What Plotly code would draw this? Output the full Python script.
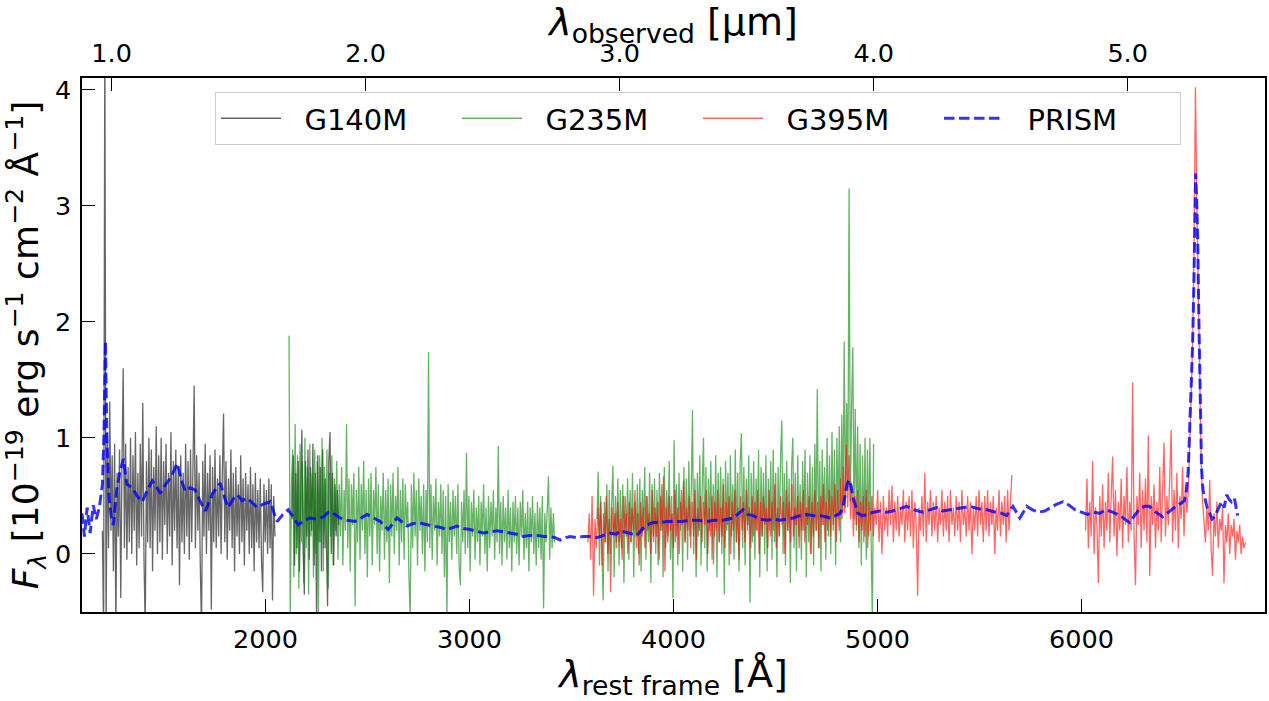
import numpy as np
import plotly.graph_objects as go

# ---------------- data ----------------
REDSHIFT = 7.03

# G140M grating: two chunks, start wavelength [Å], step [Å], flux [1e-19 cgs]
G140M_START_A, G140M_STEP_A = 1200, 6
G140M_FLUX_A = [
    0.20, -0.70, 4.60, -0.70, 1.05, 0.05, 1.31, 0.20, 0.85, -0.15,
    0.95, -0.65, 0.70, 0.15, 0.90, -0.38, 0.80, 1.60, 0.05, 0.95,
    -0.05, 0.75, 0.10, 1.00, 0.00, 0.85, 0.20, 1.05, -0.10, 0.70,
    0.05, 0.95, 0.15, 1.30, -0.05, -0.65, 0.80, 0.10, 1.00, 0.05,
    0.90, -0.15, 0.75, 0.20, 1.10, 0.00, 0.85, 0.10, 1.00, -0.05,
    0.80, 0.25, 0.95, 0.00, 0.70, 0.15, 1.05, -0.10, 0.80, 0.20,
    0.90, 0.05, 0.75, -0.27, 0.85, 0.10, 0.70, 0.00, 0.95, 0.15,
    0.80, -0.05, 0.90, 0.10, 0.75, 1.45, 0.05, 0.85, 0.20, 0.70,
    -0.10, -0.65, 0.80, 0.15, 0.95, 0.00, 0.70, 0.20, 0.85, -0.48,
    0.75, 0.10, 0.90, 0.05, 0.65, 0.15, 0.85, 0.00, 0.70, 1.21,
    0.10, 0.80, -0.05, 0.65, 0.20, 0.90, 0.05, 0.70, -0.15, 0.75,
    0.15, 0.60, 0.00, 0.85, 0.10, 0.65, -0.10, 0.70, 0.20, 0.60,
    0.00, 0.75, 0.05, 0.60, -0.15, 0.70, 0.10, 0.55, 0.05, 0.65,
    -0.05, -0.33, 0.60, 0.10, 0.55, 0.00, 0.65, 0.05, 0.60, -0.40,
    0.50, 0.15,
]
G140M_START_B, G140M_STEP_B = 2130, 6
G140M_FLUX_B = [
    0.30, 0.85, -0.10, 0.70, 0.05, 0.80, -0.15, 0.65, 1.07, 0.10,
    -0.35, 0.80, 0.15, 0.90, -0.05, 0.75, 0.20, 0.95, -0.10, 0.70,
    -0.55, 0.85, 0.10, 0.75, -0.15, 0.90, 0.05, 0.65, 0.20, -0.45,
    0.80, 1.05, 0.00, 0.70, -0.10, 0.60, 0.15, 0.55, 0.25,
]

# G235M grating
G235M_START_A, G235M_STEP_A = 2115, 6
G235M_FLUX_A = [
    1.88, -0.55, 0.60, 0.90, -0.20, 1.12, 0.00, 0.85, -0.30, 0.95,
    0.10, 0.80, -0.25, 1.00, 0.05, 0.75, -0.35, 0.95, 0.15, 0.70,
    -0.20, 0.90, 0.00, 0.80, -0.55, 0.85, 0.10, 1.00, -0.15, 0.75,
    0.05, 0.90, -0.30, 0.70, 0.15, 0.85, -0.10, 0.65, 0.20, 0.80,
    -0.05, 0.60, 0.15, 0.75, -0.10, 0.55, 0.20, 1.12, 0.05, 0.65,
    -0.15, 0.60, 0.25, 0.70, -0.45, 0.55, 0.10, 0.75, -0.05, 0.60,
    0.20, 0.80, 0.00, 0.55, -0.20, 0.65, 0.15, 0.70, -0.10, 0.55,
    0.25, 0.75, 0.00, 0.60, -0.15, 0.50, 0.20, 0.70, -0.05, 0.55,
    0.10, 0.65, -0.25, 0.60, 0.15, 0.70, 0.00, 0.50, 0.20, 0.75,
    -0.10, 0.55, 0.10, 0.65, -0.05, 0.60, 0.25, 0.45, -0.20, -0.55,
    0.60, 0.05, 0.70, 0.15, 0.55, -0.10, 0.65, 0.20, 0.50, 0.00,
    0.60, -0.15, 0.55, 0.10, 1.74, 0.05, 0.60, -0.05, 0.50, 0.20,
    0.65, -0.10, 0.45, 0.15, 0.60, 0.00, 0.55, -0.20, 0.50, -0.55,
    0.60, 0.10, 0.45, -0.05, 0.55, 0.15, 0.50, 0.00, 0.60, -0.10,
    -0.27, 0.45, 0.10, 0.55, 0.00, 0.87, 0.05, 0.50, -0.15, 0.45,
    0.15, 0.55, -0.05, 0.40, 0.10, 0.50, -0.10, 0.45, 0.15, 0.60,
    0.00, 0.40, -0.15, 0.50, 0.05, 0.45, 0.15, 0.55, -0.05, 0.40,
    0.10, 0.93, 0.00, 0.45, -0.10, 0.50, 0.10, 0.40, -0.05, 0.55,
    0.05, 0.40, -0.15, 0.45, 0.10, 0.50, 0.00, 0.40, -0.10, 0.45,
    0.15, 0.55, -0.05, 0.35, 0.05, 0.45, -0.15, 0.40, 0.10, 0.50,
    0.00, 0.35, -0.10, 0.45, 0.05, 0.40, -0.05, 0.50, -0.47, 0.35,
    0.10, 0.45, 0.67, -0.05, 0.40, 0.05, 0.35, 0.10,
]
G235M_START_B, G235M_STEP_B = 3625, 6
G235M_FLUX_B = [
    0.30, 0.71, -0.10, 0.50, 0.05, -0.40, 0.45, 0.10, 0.60, -0.15,
    0.55, 0.00, 0.45, 0.76, -0.20, 0.50, 0.10, 0.65, -0.10, 0.55,
    0.05, 0.60, -0.25, 0.50, 0.15, 0.65, -0.05, 0.55, 0.10, 0.70,
    -0.20, 0.45, 0.15, 0.60, 0.00, 0.65, -0.15, 0.55, 0.20, 0.75,
    -0.05, 0.50, 0.10, 0.70, -0.25, 0.60, 0.15, 0.65, 0.00, 0.55,
    -0.10, 0.70, 0.20, 0.60, -0.20, 0.75, 0.05, 0.55, 0.15, 0.80,
    -0.05, 0.50, -0.38, 0.98, 0.10, 0.60, -0.10, 0.70, 0.20, 0.55,
    -0.15, 0.75, 0.10, 0.65, -0.05, 0.80, 0.15, 0.55, 1.24, 0.00,
    0.65, -0.20, 0.70, 0.15, 0.85, -0.10, 0.60, 1.00, 0.05, 0.75,
    -0.15, 0.65, 0.20, 0.80, -0.05, 0.60, 0.15, 0.85, -0.20, 0.70,
    0.10, 0.75, 0.00, 0.65, -0.35, 0.80, 0.20, 0.70, -0.10, 0.85,
    0.15, 0.60, -0.05, 0.90, 0.10, 0.70, -0.15, 0.80, 1.04, 0.05,
    0.75, -0.10, 0.65, 0.20, 0.85, -0.42, 0.70, 0.10, 0.80, -0.05,
    0.65, 0.20, 0.90, -0.20, 0.75, 0.15, 0.70, 0.00, 0.85, -0.15,
    0.65, 0.20, 0.80, -0.05, 0.90, 0.10, 0.70, -0.20, 0.75, 0.15,
    0.85, 1.15, 0.00, 0.70, -0.10, 0.80, 0.20, 0.65, -0.25, 0.75,
    1.00, 0.05, 0.70, -0.15, 0.85, 0.15, 0.60, -0.05, 0.80, 0.20,
    0.90, -0.20, 0.70, 0.10, 0.85, 0.00, 0.75, -0.10, 0.95, 0.20,
    1.42, 0.05, 0.80, -0.15, 0.90, 0.25, 0.75, -0.05, 1.00, 0.15,
    0.85, 0.00, 1.05, 0.20, 0.90, -0.10, 1.00, 0.30, 1.10, 0.10,
    1.20, 0.35, 1.83, 0.40, 1.30, 0.55, 3.15, 0.45, 1.25, 1.78,
    0.30, 1.25, 0.20, 1.10, 0.05, 0.95, -0.10, 0.85, 0.10, 1.00,
    -0.05, 0.90, 0.15, 1.00, 0.10, -0.60, 0.95,
]

# G395M grating
G395M_START_A, G395M_STEP_A = 3580, 7
G395M_FLUX_A = [
    0.10, 0.35, -0.05, 0.50, -0.36, 0.30, 0.05, 0.40, 0.15, 0.45,
    -0.10, 0.35, 0.10, 0.50, 0.00, 0.30, -0.33, 0.40, 0.15, 0.35,
    0.05, 0.45, 0.10, 0.30, -0.05, 0.50, 0.20, 0.35, 0.00, 0.45,
    0.10, 0.40, 0.20, 0.55, 0.05, 0.35, -0.10, 0.45, 0.15, 0.40,
    0.05, 0.50, 0.20, 0.35, 0.00, 0.55, 0.10, 0.40, 0.15, 0.45,
    -0.05, 0.50, 0.20, 0.67, -0.15, 0.40, 0.10, 0.50, 0.20, 0.35,
    0.05, 0.55, 0.15, 0.40, 0.00, 0.45, 0.25, 0.63, 0.10, 0.40,
    0.20, 0.50, 0.05, 0.45, 0.15, 0.55, -0.05, 0.40, 0.20, 0.50,
    0.10, 0.45, 0.25, 0.55, 0.00, 0.40, 0.15, 0.50, -0.09, 0.45,
    0.20, 0.55, 0.10, 0.40, 0.15, 0.60, 0.05, 0.45, 0.25, 0.50,
    0.00, 0.45, 0.20, 0.55, 0.10, 0.40, -0.05, 0.50, 0.20, 0.45,
    0.10, 0.55, 0.25, 0.40, 0.05, 0.50, 0.15, 0.45, 0.20, 0.55,
    0.00, 0.45, 0.15, 0.50, 0.25, 0.40, 0.05, 0.55, 0.15, 0.45,
    0.20, 0.60, 0.05, 0.40, 0.15, 0.50, 0.25, 0.45, 0.00, 0.55,
    0.20, 0.45, 0.10, 0.60, 0.15, 0.40, 0.25, 0.50, 0.05, 0.45,
    0.20, 0.55, 0.10, 0.40, 0.25, 0.50, 0.00, 0.45, 0.15, 0.55,
    0.20, 0.45, 0.05, 0.50, 0.25, 0.60, 0.10, 0.45, 0.20, 0.55,
    0.15, 0.50, 0.25, 0.60, 0.10, 0.55, 0.20, 0.65, 0.30, 0.75,
    0.35, 0.94, 0.40, 0.85, 0.30, 0.60, 0.15, 0.50, 0.25, 0.55,
    0.10, 0.45, 0.20, 0.50, 0.15, 0.55, 0.05, 0.45, 0.20, 0.50,
    0.15, 0.40, 0.25, 0.55, 0.10, 0.45, 0.00, 0.50, 0.20, 0.40,
    0.15, 0.55, 0.25, 0.59, 0.10, 0.45, 0.20, 0.50, 0.15, 0.40,
    0.25, 0.55, 0.10, 0.45, 0.20, 0.50, 0.15, 0.55, 0.05, 0.45,
    0.25, -0.36, 0.40, 0.20, 0.50, 0.15, 0.70, 0.10, 0.45, 0.25,
    0.55, 0.15, 0.45, 0.20, 0.50, 0.10, 0.40, 0.25, 0.55, 0.15,
    0.45, 0.20, 0.50, 0.10, 0.55, 0.25, 0.40, 0.15, 0.50, 0.20,
    0.45, 0.10, 0.55, 0.25, 0.40, 0.15, 0.50, 0.20, 0.45, 0.00,
    0.40, 0.20, 0.50, 0.15, 0.55, 0.25, 0.45, 0.10, 0.50, 0.20,
    0.55, 0.15, 0.45, 0.25, 0.50, 0.00, 0.40, 0.20, 0.55, 0.15,
    0.45, 0.25, 0.50, 0.10, 0.55, 0.20, 0.45, 0.68,
]
G395M_START_B, G395M_STEP_B = 6020, 7
G395M_FLUX_B = [
    0.20, 0.65, 0.05, 0.45, 0.15, 0.80, 0.00, 0.40, 0.25, -0.25,
    0.50, 0.15, 0.60, 0.05, 0.45, 0.20, 0.70, 0.10, 0.50, 0.84,
    0.15, 0.55, -0.02, 0.45, 0.20, 0.65, 0.05, 0.50, 0.25, 0.75,
    0.10, 0.45, 0.20, 1.48, 0.15, -0.27, 0.50, 0.25, 0.70, 0.05,
    0.55, 0.20, 0.65, 0.10, 1.02, -0.19, 0.50, 0.25, 0.60, 0.05,
    0.45, 0.20, 0.75, 0.10, 0.55, 0.96, 0.15, 0.50, 0.25, 0.65,
    1.07, 0.10, 0.55, 0.20, 0.70, 0.05, 0.50, 0.30, 0.75, 0.15,
    0.60, 0.35, 0.55, 0.95, 1.30, 1.80, 2.60, 4.02, 3.00, 2.20,
    1.40, 0.80, 0.45, 0.30, 0.10, 0.40, 0.20, 0.64, 0.05, -0.19,
    0.35, 0.15, 0.45, 0.05, 0.30, 0.20, 0.40, -0.25, 0.25, 0.10,
    0.35, 0.00, 0.25, 0.15, 0.30, -0.05, 0.20, 0.10, 0.25, 0.00,
    0.15, 0.05, 0.10,
]

# PRISM (low resolution)
PRISM_WAVE = [
    1100, 1112, 1125, 1140, 1155, 1170, 1185, 1200, 1208, 1215,
    1222, 1232, 1245, 1254, 1270, 1285, 1303, 1320, 1347, 1370,
    1396, 1420, 1445, 1465, 1484, 1510, 1533, 1567, 1590, 1607,
    1630, 1656, 1680, 1705, 1740, 1778, 1800, 1817, 1840, 1861,
    1885, 1910, 1935, 1959, 1990, 2023, 2040, 2057, 2085, 2111,
    2135, 2160, 2190, 2219, 2250, 2283, 2310, 2332, 2365, 2400,
    2439, 2470, 2498, 2530, 2562, 2601, 2625, 2645, 2694, 2720,
    2748, 2790, 2821, 2855, 2890, 2939, 2970, 3003, 3040, 3067,
    3100, 3135, 3170, 3199, 3230, 3263, 3300, 3331, 3365, 3395,
    3420, 3444, 3470, 3493, 3525, 3557, 3590, 3625, 3660, 3689,
    3720, 3738, 3780, 3821, 3850, 3870, 3900, 3934, 3970, 3998,
    4040, 4081, 4120, 4164, 4200, 4243, 4270, 4292, 4320, 4341,
    4365, 4390, 4425, 4459, 4490, 4522, 4555, 4586, 4620, 4655,
    4690, 4719, 4745, 4768, 4795, 4817, 4830, 4841, 4851, 4861,
    4871, 4881, 4893, 4904, 4925, 4949, 4980, 5012, 5045, 5075,
    5110, 5143, 5180, 5220, 5256, 5290, 5320, 5355, 5389, 5420,
    5453, 5495, 5536, 5580, 5610, 5634, 5650, 5664, 5680, 5698,
    5715, 5732, 5760, 5790, 5820, 5850, 5880, 5910, 5940, 5970,
    6000, 6030, 6060, 6089, 6120, 6153, 6190, 6236, 6260, 6285,
    6310, 6334, 6365, 6398, 6420, 6442, 6470, 6491, 6505, 6515,
    6523, 6530, 6538, 6545, 6551, 6556, 6560, 6565, 6570, 6575,
    6580, 6584, 6589, 6596, 6604, 6616, 6628, 6640, 6653, 6670,
    6687, 6700, 6712, 6724, 6736, 6750, 6761, 6766,
]
PRISM_FLUX = [
    0.35, 0.15, 0.40, 0.18, 0.42, 0.30, 0.40, 0.60, 1.05, 1.83,
    1.00, 0.50, 0.30, 0.25, 0.55, 0.70, 0.82, 0.60, 0.57, 0.50,
    0.45, 0.55, 0.63, 0.58, 0.52, 0.60, 0.65, 0.78, 0.62, 0.54,
    0.57, 0.55, 0.45, 0.37, 0.52, 0.61, 0.48, 0.40, 0.47, 0.51,
    0.46, 0.48, 0.44, 0.40, 0.43, 0.45, 0.36, 0.28, 0.34, 0.38,
    0.32, 0.25, 0.29, 0.31, 0.30, 0.32, 0.36, 0.35, 0.31, 0.29,
    0.28, 0.31, 0.34, 0.31, 0.28, 0.21, 0.27, 0.31, 0.24, 0.26,
    0.27, 0.25, 0.24, 0.23, 0.21, 0.24, 0.22, 0.21, 0.19, 0.18,
    0.19, 0.20, 0.19, 0.18, 0.17, 0.15, 0.16, 0.16, 0.15, 0.15,
    0.14, 0.12, 0.14, 0.15, 0.14, 0.15, 0.15, 0.14, 0.16, 0.18,
    0.17, 0.20, 0.18, 0.16, 0.22, 0.25, 0.27, 0.27, 0.28, 0.28,
    0.28, 0.29, 0.29, 0.28, 0.29, 0.29, 0.30, 0.31, 0.35, 0.38,
    0.34, 0.33, 0.30, 0.29, 0.30, 0.29, 0.30, 0.31, 0.33, 0.34,
    0.33, 0.33, 0.32, 0.31, 0.33, 0.35, 0.40, 0.51, 0.60, 0.64,
    0.58, 0.48, 0.40, 0.35, 0.33, 0.34, 0.36, 0.37, 0.36, 0.37,
    0.39, 0.41, 0.38, 0.36, 0.38, 0.40, 0.37, 0.38, 0.39, 0.40,
    0.41, 0.39, 0.38, 0.36, 0.35, 0.33, 0.38, 0.41, 0.36, 0.31,
    0.36, 0.41, 0.38, 0.36, 0.37, 0.40, 0.43, 0.45, 0.42, 0.38,
    0.36, 0.34, 0.36, 0.35, 0.38, 0.36, 0.33, 0.27, 0.33, 0.39,
    0.41, 0.41, 0.36, 0.32, 0.35, 0.38, 0.42, 0.44, 0.46, 0.55,
    0.70, 1.04, 1.40, 1.80, 2.30, 2.72, 3.28, 3.05, 2.73, 2.11,
    1.60, 1.31, 0.73, 0.55, 0.49, 0.40, 0.36, 0.30, 0.32, 0.38,
    0.45, 0.40, 0.51, 0.47, 0.45, 0.48, 0.39, 0.33,
]

SERIES_NAMES = ["G140M", "G235M", "G395M", "PRISM"]
X_RANGE = [1100, 6900]
Y_RANGE = [-0.5, 4.1]
X_TICKS = [2000, 3000, 4000, 5000, 6000]
X2_TICKS = [1.0, 2.0, 3.0, 4.0, 5.0]
Y_TICKS = [0, 1, 2, 3, 4]


def join_segments(*segs):
    """Each seg = (start, step, flux); joins them with a gap (None)."""
    xs, ys = [], []
    for k, (start, step, flux) in enumerate(segs):
        if k:
            xs.append(None)
            ys.append(None)
        wave = start + step * np.arange(len(flux))
        xs.extend(wave.tolist())
        ys.extend(flux)
    return xs, ys


g140_x, g140_y = join_segments((G140M_START_A, G140M_STEP_A, G140M_FLUX_A),
                               (G140M_START_B, G140M_STEP_B, G140M_FLUX_B))
g235_x, g235_y = join_segments((G235M_START_A, G235M_STEP_A, G235M_FLUX_A),
                               (G235M_START_B, G235M_STEP_B, G235M_FLUX_B))
g395_x, g395_y = join_segments((G395M_START_A, G395M_STEP_A, G395M_FLUX_A),
                               (G395M_START_B, G395M_STEP_B, G395M_FLUX_B))

FONT = "DejaVu Sans"
PAD = "\u00a0\u00a0"   # gap between legend line sample and label (as in matplotlib)
fig = go.Figure()
fig.add_trace(go.Scatter(x=g140_x, y=g140_y, mode="lines", name=PAD + SERIES_NAMES[0],
                         line=dict(color="rgba(0,0,0,0.6)", width=1.3)))
fig.add_trace(go.Scatter(x=g235_x, y=g235_y, mode="lines", name=PAD + SERIES_NAMES[1],
                         line=dict(color="rgba(0,128,0,0.6)", width=1.3)))
fig.add_trace(go.Scatter(x=g395_x, y=g395_y, mode="lines", name=PAD + SERIES_NAMES[2],
                         line=dict(color="rgba(255,0,0,0.6)", width=1.3)))
fig.add_trace(go.Scatter(x=PRISM_WAVE, y=PRISM_FLUX, mode="lines", name=PAD + SERIES_NAMES[3],
                         line=dict(color="rgba(0,0,255,0.8)", width=3,
                                   dash="10.5px,4.5px")))
# same PRISM data on the observed-frame axis (invisible), so the top axis is drawn
fig.add_trace(go.Scatter(x=[w * (1 + REDSHIFT) / 1e4 for w in PRISM_WAVE], y=PRISM_FLUX,
                         xaxis="x2", mode="lines", showlegend=False, hoverinfo="skip",
                         line=dict(color="rgba(0,0,0,0)", width=0)))

obs_range = [v * (1 + REDSHIFT) / 1e4 for v in X_RANGE]

axis_common = dict(ticks="inside", ticklen=13, tickwidth=1.3, tickcolor="black",
                   showline=True, linewidth=1.5, linecolor="black",
                   showgrid=False, zeroline=False,
                   tickfont=dict(family=FONT, size=25.5, color="black"))

fig.update_layout(
    width=1269, height=701,
    margin=dict(l=82, r=4, t=78, b=89, autoexpand=False),
    paper_bgcolor="white", plot_bgcolor="white",
    font=dict(family=FONT, color="black"),
    showlegend=True,
    legend=dict(orientation="h", x=(215 - 82) / 1183, xanchor="left", y=0.974, yanchor="top",
                bgcolor="rgba(255,255,255,0.8)", bordercolor="#cccccc", borderwidth=1,
                font=dict(family=FONT, size=29, color="black"),
                entrywidth=166, entrywidthmode="pixels", itemwidth=60,
                traceorder="normal"),
    xaxis=dict(range=X_RANGE, tickvals=X_TICKS, mirror=True, ticklabelstandoff=4,
               title=dict(text="<i>λ</i><sub>rest frame</sub> [Å]", standoff=8,
                          font=dict(family=FONT, size=38, color="black")),
               automargin=False, **axis_common),
    xaxis2=dict(range=obs_range, tickvals=X2_TICKS, tickformat=".1f",
                overlaying="x", side="top", anchor="y", ticklabelstandoff=4,
                title=dict(text="<i>λ</i><sub>observed</sub> [μm]", standoff=13,
                           font=dict(family=FONT, size=38, color="black")),
                automargin=False, **axis_common),
    yaxis=dict(range=Y_RANGE, tickvals=Y_TICKS, mirror=True, ticklabelstandoff=4,
               title=dict(text="<i>F</i><sub><i>λ</i></sub> [10<sup>−19</sup> erg s<sup>−1</sup> cm<sup>−2</sup> Å<sup>−1</sup>]",
                          standoff=7, font=dict(family=FONT, size=36, color="black")),
               automargin=False, **axis_common),
)

fig.write_html("out.html")
